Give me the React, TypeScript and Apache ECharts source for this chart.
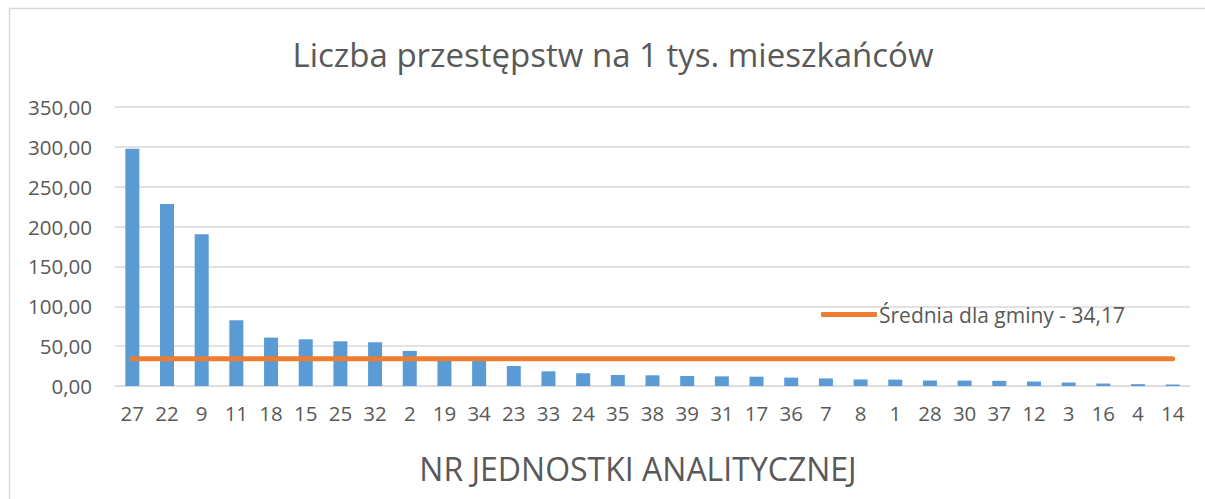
import React, { useEffect, useRef } from "react";
import * as echarts from "echarts";

const categories = ["27","22","9","11","18","15","25","32","2","19","34","23","33","24","35","38","39","31","17","36","7","8","1","28","30","37","12","3","16","4","14"];
const crimeRate = [297.7,228.2,190.5,82.5,60.7,58.6,56.1,54.9,44.0,33.5,32.5,25.1,18.4,16.0,13.8,13.4,12.6,12.1,11.7,10.5,9.5,8.2,8.0,6.9,6.8,6.5,5.6,4.4,3.1,2.3,1.9];
const averageValue = 34.17;
const averageName = "Średnia dla gminy - 34,17";
const titleText = "Liczba przestępstw na 1 tys. mieszkańców";
const xAxisName = "NR JEDNOSTKI ANALITYCZNEJ";

export default function App() {
  const ref = useRef<HTMLDivElement>(null);
  useEffect(() => {
    if (!ref.current) return;
    const chart = echarts.init(ref.current, null, { renderer: "svg" });
    const font = "'Open Sans', sans-serif";
    chart.setOption({
      animation: false,
      backgroundColor: "#ffffff",
      textStyle: { fontFamily: font },
      graphic: [
        {
          type: "rect",
          shape: { x: 9.5, y: 8.5, width: 1205, height: 500 },
          style: { fill: "none", stroke: "#d9d9d9", lineWidth: 1.5 },
          silent: true,
        },
        {
          type: "text",
          x: 613,
          y: 54,
          style: {
            text: titleText,
            fontSize: 33,
            fill: "#595959",
            fontFamily: font,
            textAlign: "center",
            textVerticalAlign: "middle",
          },
        },
        {
          type: "text",
          x: 638,
          y: 468,
          style: {
            text: xAxisName,
            fontSize: 32,
            fill: "#595959",
            fontFamily: font,
            textAlign: "center",
            textVerticalAlign: "middle",
          },
        },
      ],
      legend: {
        data: [{ name: averageName, icon: "roundRect" }],
        left: 816,
        top: 299,
        itemWidth: 56,
        itemHeight: 5,
        textStyle: { fontSize: 21, color: "#595959", fontFamily: font, padding: [0, 0, 0, -3] },
      },
      grid: { left: 115, right: 15, top: 107, bottom: 113, containLabel: false },
      xAxis: {
        type: "category",
        data: categories,
        axisLine: { lineStyle: { color: "#d9d9d9", width: 1 } },
        axisTick: { show: false },
        axisLabel: { fontSize: 20.5, color: "#595959", margin: 16, interval: 0, fontFamily: font },
      },
      yAxis: {
        type: "value",
        min: 0,
        max: 350,
        interval: 50,
        axisLine: { show: false },
        axisTick: { show: false },
        splitLine: { lineStyle: { color: "#d9d9d9", width: 1.5 } },
        axisLabel: {
          fontSize: 20.5,
          color: "#595959",
          margin: 23,
          fontFamily: font,
          formatter: (v: number) => v.toFixed(2).replace(".", ","),
        },
      },
      series: [
        {
          name: "Liczba przestępstw",
          type: "bar",
          data: crimeRate,
          barWidth: 14,
          itemStyle: { color: "#5b9bd5" },
        },
        {
          name: averageName,
          type: "line",
          data: categories.map(() => averageValue),
          symbol: "none",
          lineStyle: { color: "#ed7d31", width: 5, cap: "round" },
          itemStyle: { color: "#ed7d31" },
        },
      ],
    });
    return () => chart.dispose();
  }, []);
  return (
    <div
      ref={ref}
      style={{ position: "fixed", left: 0, top: 0, width: 1205, height: 499 }}
    />
  );
}
